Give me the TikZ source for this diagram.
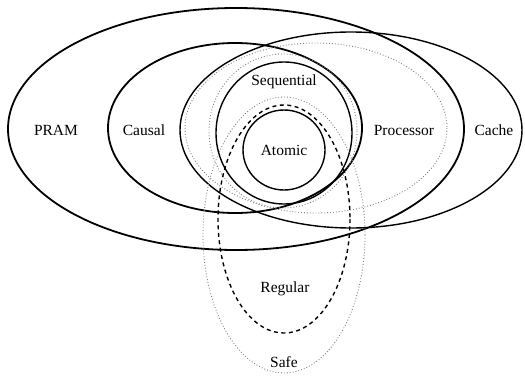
\documentclass[tikz,border=0pt]{standalone}
\usepackage{fontspec}
\setmainfont{Liberation Serif}
\begin{document}
\begin{tikzpicture}[x=1pt,y=-1pt,
  thickset/.style={line width=1.8pt},
  solidset/.style={line width=1.4pt},
  dotset/.style={line width=0.9pt, gray, dotted},
  dashset/.style={line width=1.4pt, dash pattern=on 4pt off 3.5pt},
  lbl/.style={font=\fontsize{15.5}{18}\selectfont, inner sep=1pt}]
\useasboundingbox (0,0) rectangle (525,380);
% sets
\draw[thickset] (236,129) ellipse [x radius=228, y radius=121];
\draw[thickset] (235,128) ellipse [x radius=127, y radius=85];
\draw[solidset] (351,130) ellipse [x radius=171, y radius=98];
\draw[dotset] (316,128) ellipse [x radius=131, y radius=85];
\draw[dotset] (283,131) ellipse [x radius=74, y radius=77];
\draw[solidset] (284,133) ellipse [x radius=68, y radius=71];
\draw[solidset] (284,150) ellipse [x radius=41, y radius=40];
\draw[dashset] (284,219) ellipse [x radius=66, y radius=114];
\draw[dotset] (284,235) ellipse [x radius=81, y radius=138];
% labels
\node[lbl] (pram) at (56,130) {PRAM};
\node[lbl] (causal) at (144,130) {Causal};
\node[lbl] (seq) at (284,82) {Sequential};
\node[lbl] (atomic) at (284,150) {Atomic};
\node[lbl] (proc) at (404,130) {Processor};
\node[lbl] (cache) at (494,130) {Cache};
\node[lbl] (regular) at (285,289) {Regular};
\node[lbl] (safe) at (284,362) {Safe};
\end{tikzpicture}
\end{document}
